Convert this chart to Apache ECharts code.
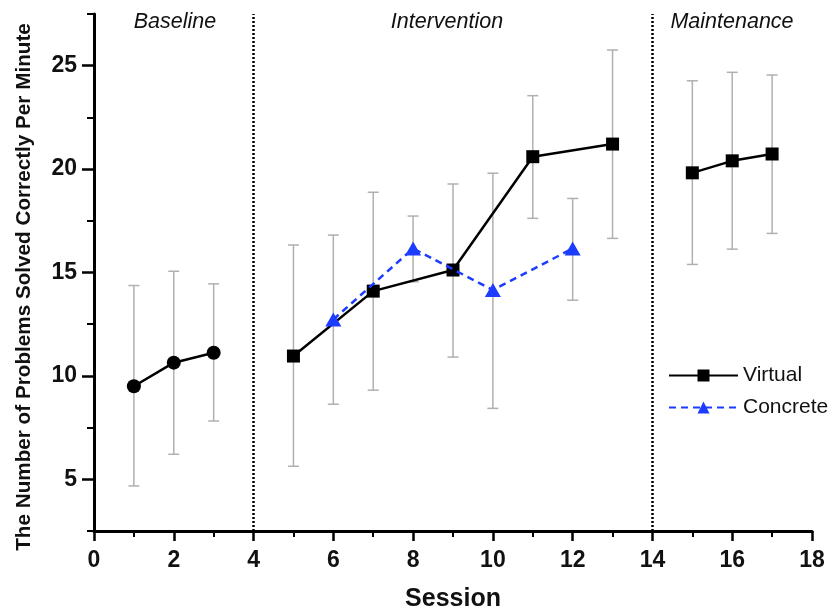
<!DOCTYPE html>
<html>
<head>
<meta charset="utf-8">
<script src="https://cdn.jsdelivr.net/npm/echarts@6/dist/echarts.min.js"></script>
<style>html,body{margin:0;padding:0;background:#fff}#c{width:832px;height:610px}</style>
</head>
<body>
<div id="c"></div>
<script>
// ---- data ----
const baselineSessions = [1, 2, 3];
const baselineMean = [9.5, 10.64, 11.12];
const baselineLow = [4.68, 6.21, 7.82];
const baselineHigh = [14.37, 15.06, 14.45];

const virtualSessions = [5, 7, 9, 11, 13];
const virtualMean = [10.96, 14.1, 15.12, 20.6, 21.21];
const virtualLow = [5.63, 9.31, 10.91, 17.62, 16.65];
const virtualHigh = [16.33, 18.88, 19.28, 23.55, 25.76];

const concreteSessions = [6, 8, 10, 12];
const concreteMean = [12.73, 16.16, 14.15, 16.16];
const concreteLow = [8.63, 14.55, 8.43, 13.66];
const concreteHigh = [16.81, 17.73, 19.8, 18.58];

const maintenanceSessions = [15, 16, 17];
const maintenanceMean = [19.82, 20.4, 20.73];
const maintenanceLow = [15.39, 16.13, 16.89];
const maintenanceHigh = [24.27, 24.68, 24.55];

const phaseBoundaries = [4, 14];
const phaseLabels = ['Baseline', 'Intervention', 'Maintenance'];
const yTickLabels = [5, 10, 15, 20, 25];
const yMinorTicks = [2.5, 7.5, 12.5, 17.5, 22.5, 27.5];

// ---- helpers ----
const zip = (xs, ys) => xs.map((x, i) => [x, ys[i]]);
const errData = (xs, lo, hi) => xs.map((x, i) => [x, lo[i], hi[i]]);

function errRender(params, api) {
  const x = api.value(0), lo = api.value(1), hi = api.value(2);
  const a = api.coord([x, lo]), b = api.coord([x, hi]);
  const w = 5.5;
  const st = { stroke: '#b0b0b0', lineWidth: 1.5 };
  return { type: 'group', children: [
    { type: 'line', shape: { x1: a[0], y1: a[1], x2: b[0], y2: b[1] }, style: st },
    { type: 'line', shape: { x1: a[0] - w, y1: a[1], x2: a[0] + w, y2: a[1] }, style: st },
    { type: 'line', shape: { x1: b[0] - w, y1: b[1], x2: b[0] + w, y2: b[1] }, style: st }
  ]};
}

const allErr = []
  .concat(errData(baselineSessions, baselineLow, baselineHigh))
  .concat(errData(virtualSessions, virtualLow, virtualHigh))
  .concat(errData(concreteSessions, concreteLow, concreteHigh))
  .concat(errData(maintenanceSessions, maintenanceLow, maintenanceHigh));

const chart = echarts.init(document.getElementById('c'), null, { renderer: 'canvas' });
const BLUE = '#1c3cff';

const option = {
  animation: false,
  backgroundColor: '#fff',
  grid: { left: 94, right: 20, top: 14, bottom: 79, containLabel: false, outerBoundsMode: 'none' },
  legend: {
    data: ['Virtual', 'Concrete'],
    orient: 'vertical',
    left: 668, top: 365,
    itemWidth: 69, itemHeight: 15, itemGap: 11,
    padding: 0,
    textStyle: { fontFamily: 'Liberation Sans', fontSize: 21, color: '#111', padding: [0, 0, 0, 0] }
  },
  xAxis: {
    type: 'value', min: 0, max: 18, interval: 2,
    name: 'Session', nameLocation: 'middle', nameGap: 56,
    nameTextStyle: { fontFamily: 'Liberation Sans', fontWeight: 'bold', fontSize: 25, color: '#111' },
    axisLine: { show: true, onZero: false, lineStyle: { color: '#000', width: 3 } },
    axisTick: { show: true, length: 10, lineStyle: { color: '#000', width: 2.5 } },
    minorTick: { show: true, splitNumber: 2, length: 6, lineStyle: { color: '#000', width: 2 } },
    axisLabel: { margin: 18, fontFamily: 'Liberation Sans', fontWeight: 'bold', fontSize: 23, color: '#111' },
    splitLine: { show: false }
  },
  yAxis: [{
    type: 'value', min: 2.5, max: 27.5, position: 'left',
    axisLine: { show: true, onZero: false, lineStyle: { color: '#000', width: 3 } },
    axisTick: { show: true, length: 7, customValues: yMinorTicks, lineStyle: { color: '#000', width: 2 } },
    axisLabel: { show: false },
    splitLine: { show: false }
  }, {
    type: 'value', min: 2.5, max: 27.5, position: 'left', offset: 0,
    axisLine: { show: false, onZero: false },
    axisTick: { show: true, length: 12, customValues: yTickLabels, lineStyle: { color: '#000', width: 2.5 } },
    axisLabel: { show: true, customValues: yTickLabels, margin: 17, fontFamily: 'Liberation Sans', fontWeight: 'bold', fontSize: 23, color: '#111' },
    splitLine: { show: false }
  }],
  graphic: [
    { type: 'text', x: 24, y: 287, rotation: Math.PI / 2,
      style: { text: 'The Number of Problems Solved Correctly Per Minute', font: 'bold 20.7px "Liberation Sans"', fill: '#111', align: 'center', verticalAlign: 'middle' } },
    { type: 'text', x: 175, y: 22, style: { text: phaseLabels[0], font: 'italic 21.5px "Liberation Sans"', fill: '#111', align: 'center', verticalAlign: 'middle' } },
    { type: 'text', x: 447, y: 22, style: { text: phaseLabels[1], font: 'italic 21.5px "Liberation Sans"', fill: '#111', align: 'center', verticalAlign: 'middle' } },
    { type: 'text', x: 732, y: 22, style: { text: phaseLabels[2], font: 'italic 21.5px "Liberation Sans"', fill: '#111', align: 'center', verticalAlign: 'middle' } }
  ],
  series: [
    {
      type: 'custom', name: 'err', renderItem: errRender, data: allErr,
      encode: { x: 0, y: [1, 2] }, z: 1, silent: true,
      markLine: {
        silent: true, symbol: 'none', label: { show: false },
        lineStyle: { color: '#000', type: [2, 2], width: 2.5 },
        data: phaseBoundaries.map(v => ({ xAxis: v }))
      }
    },
    {
      type: 'line', name: 'Baseline', data: zip(baselineSessions, baselineMean),
      symbol: 'circle', symbolSize: 14, itemStyle: { color: '#000' },
      lineStyle: { color: '#000', width: 2.5 }, z: 3
    },
    {
      type: 'line', name: 'Virtual', data: zip(virtualSessions, virtualMean),
      symbol: 'rect', symbolSize: 13, itemStyle: { color: '#000' },
      lineStyle: { color: '#000', width: 2.5 }, z: 3
    },
    {
      type: 'line', name: 'Virtual', data: zip(maintenanceSessions, maintenanceMean),
      symbol: 'rect', symbolSize: 13, itemStyle: { color: '#000' },
      lineStyle: { color: '#000', width: 2.5 }, z: 3
    },
    {
      type: 'line', name: 'Concrete', data: zip(concreteSessions, concreteMean),
      symbol: 'triangle', symbolSize: [16, 14], itemStyle: { color: BLUE },
      lineStyle: { color: BLUE, width: 2.5, type: [7, 5] }, z: 4
    }
  ]
};
chart.setOption(option);
</script>
</body>
</html>
